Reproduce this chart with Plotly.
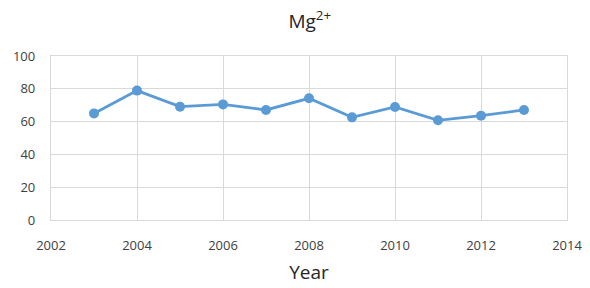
import plotly.graph_objects as go

years = [2003, 2004, 2005, 2006, 2007, 2008, 2009, 2010, 2011, 2012, 2013]
mg_values = [65.0, 78.9, 69.1, 70.5, 67.1, 74.2, 62.6, 68.9, 60.8, 63.6, 67.1]
x_ticks = [2002, 2004, 2006, 2008, 2010, 2012, 2014]
y_ticks = [0, 20, 40, 60, 80, 100]

color = "#5B9BD5"
grid = "#D9D9D9"
text_col = "#404040"
font_family = "Open Sans, Liberation Sans, sans-serif"

fig = go.Figure(go.Scatter(
    x=years, y=mg_values, mode="lines+markers",
    line=dict(color=color, width=2.8),
    marker=dict(color=color, size=10),
))

fig.update_layout(
    width=590, height=288,
    margin=dict(l=51, r=23, t=56, b=68),
    paper_bgcolor="white", plot_bgcolor="white",
    showlegend=False,
    title=dict(text="Mg<sup>2+</sup>", x=0.525, xanchor="center", y=0.925, yanchor="middle",
               font=dict(family=font_family, size=19, color="#262626")),
    font=dict(family=font_family, color=text_col),
)
fig.update_xaxes(
    range=[2002, 2014], tickvals=x_ticks, ticktext=[str(t) for t in x_ticks],
    showgrid=True, gridcolor=grid, gridwidth=1.3,
    showline=True, linecolor=grid, linewidth=1.3, mirror=True,
    zeroline=False, tickfont=dict(size=13, color=text_col),
    ticks="outside", ticklen=13, tickcolor="rgba(0,0,0,0)",
    automargin=False,
    title=dict(text="Year", font=dict(size=19, color="#262626"), standoff=12),
)
fig.update_yaxes(
    range=[0, 100], tickvals=y_ticks,
    showgrid=True, gridcolor=grid, gridwidth=1.3,
    showline=True, linecolor=grid, linewidth=1.3, mirror=True,
    zeroline=False, tickfont=dict(size=13, color=text_col),
    ticks="outside", ticklen=12, tickcolor="rgba(0,0,0,0)",
    automargin=False,
)

fig.write_html("out.html", config={"displayModeBar": False},
               post_script="document.body.style.margin='0';")
